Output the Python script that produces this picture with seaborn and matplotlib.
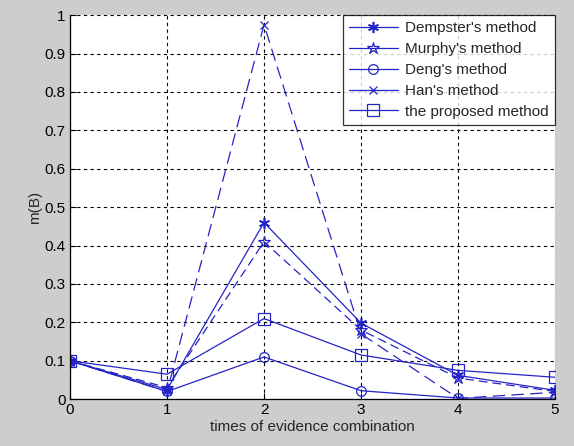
import seaborn as sns
import matplotlib.pyplot as plt

steps = [0, 1, 2, 3, 4, 5]
dempster = [0.1, 0.025, 0.46, 0.198, 0.062, 0.023]
murphy = [0.1, 0.03, 0.41, 0.18, 0.055, 0.02]
deng = [0.1, 0.02, 0.11, 0.022, 0.003, 0.003]
han = [0.1, 0.02, 0.975, 0.17, 0.002, 0.018]
proposed = [0.1, 0.065, 0.21, 0.115, 0.075, 0.057]

sns.set_style('white')
plt.rcParams['font.family'] = ['Liberation Sans', 'DejaVu Sans']

blue = '#2424c8'
fig, ax = plt.subplots(figsize=(5.74, 4.46), dpi=100)
fig.patch.set_facecolor('#cdcdcd')
ax.set_facecolor('white')
fig.subplots_adjust(left=0.122, right=0.967, top=0.966, bottom=0.105)

asterisk = (6, 2, 0)
sns.lineplot(x=steps, y=dempster, ax=ax, color=blue, lw=0.9, marker=asterisk,
             markersize=8, markeredgecolor=blue, markeredgewidth=1.2,
             label="Dempster's method")
sns.lineplot(x=steps, y=murphy, ax=ax, color=blue, lw=0.9, marker='*',
             markersize=9, markerfacecolor='none', markeredgecolor=blue,
             markeredgewidth=0.9, dashes=(7, 4), label="Murphy's method")
sns.lineplot(x=steps, y=deng, ax=ax, color=blue, lw=0.9, marker='o',
             markersize=7, markerfacecolor='none', markeredgecolor=blue,
             markeredgewidth=0.9, label="Deng's method")
sns.lineplot(x=steps, y=han, ax=ax, color=blue, lw=0.9, marker='x',
             markersize=6, markeredgecolor=blue, markeredgewidth=0.9,
             dashes=(10, 5), label="Han's method")
sns.lineplot(x=steps, y=proposed, ax=ax, color=blue, lw=0.9, marker='s',
             markersize=8, markerfacecolor='none', markeredgecolor=blue,
             markeredgewidth=0.9, label='the proposed method')

ax.set_xlim(0, 5)
ax.set_ylim(0, 1)
ax.set_xticks(steps)
ax.set_yticks([i / 10 for i in range(11)])
ax.set_yticklabels(['0'] + ['0.%d' % i for i in range(1, 10)] + ['1'])
ax.grid(True, color='black', linestyle=(0, (3, 3)), linewidth=0.8)
for side in ['top', 'right']:
    ax.spines[side].set_visible(False)
for side in ['left', 'bottom']:
    ax.spines[side].set_color('black')
    ax.spines[side].set_linewidth(0.9)
ax.tick_params(direction='in', length=4, labelsize=11, colors='black',
               left=True, bottom=True, pad=3)
ax.set_xlabel('times of evidence combination', fontsize=11, labelpad=2)
ax.set_ylabel('m(B)', fontsize=11, labelpad=2)

leg = ax.legend(loc='upper right', fontsize=11, frameon=True, fancybox=False,
                borderaxespad=0, handlelength=3.2, labelspacing=0.45,
                borderpad=0.4, handletextpad=0.5)
leg.get_frame().set_edgecolor('black')
leg.get_frame().set_linewidth(0.9)
for h in leg.get_lines():
    h.set_linestyle('-')

fig.savefig('out.png', dpi=100, facecolor=fig.get_facecolor())
